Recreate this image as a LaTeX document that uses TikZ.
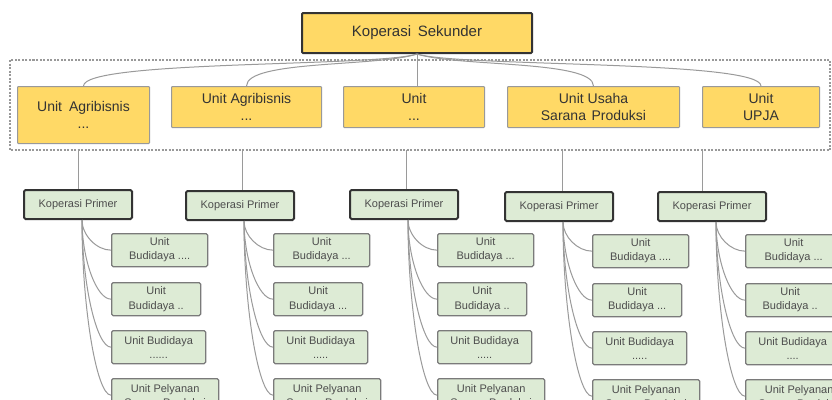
\documentclass[tikz,border=0pt]{standalone}
\usepackage{fontspec}
\setmainfont{Liberation Sans}
\usetikzlibrary{calc}
\definecolor{yel}{HTML}{FFD966}
\definecolor{lgreen}{HTML}{DDEBD5}
\definecolor{darkb}{HTML}{333333}
\definecolor{unitb}{HTML}{999999}
\definecolor{leafb}{HTML}{7A7A7A}
\definecolor{lineg}{HTML}{9A9A9A}
\definecolor{txt}{HTML}{333333}
\definecolor{txtl}{HTML}{4D4D4D}
\newcommand\dotsn[1]{\ifcase#1\or.\or..\or...\or....\or.....\or......\fi}
\tikzset{
  sek/.style={draw=darkb, line width=2pt, fill=yel, text=txt, font=\fontsize{15}{18}\selectfont,
    minimum width=230pt, minimum height=40pt, inner sep=0pt, rounded corners=1pt},
  unitbox/.style={draw=unitb, line width=1pt, fill=yel, text=txt, font=\fontsize{14}{17}\selectfont,
    align=center, inner sep=0pt, anchor=north west, rounded corners=0.8pt},
  kp/.style={draw=darkb, line width=2pt, fill=lgreen, text=txtl, font=\fontsize{11}{13}\selectfont,
    minimum width=108pt, minimum height=29pt, inner sep=0pt, anchor=north west, rounded corners=1.5pt},
  leaf/.style={draw=leafb, line width=1.3pt, fill=lgreen, text=txtl, font=\fontsize{11}{14}\selectfont,
    align=center, minimum height=33pt, inner sep=0pt, anchor=north west, rounded corners=1.5pt},
  conn/.style={draw=lineg, line width=1pt},
  dotrect/.style={draw=unitb, line width=1.2pt, dash pattern=on 2pt off 1.5pt}
}
\begin{document}
\begin{tikzpicture}[x=1pt,y=-1pt]
\useasboundingbox (0,0) rectangle (832,399);
\clip (0,0) rectangle (832,399);
\fill[white] (0,0) rectangle (832,399);
% top
\node[sek] (sek) at (417,33) {Koperasi\hspace{0.45em}Sekunder};
\draw[dotrect] (10,60) rectangle (830,150);
% units
\node[unitbox, minimum width=132pt, minimum height=57pt] (u1) at (17,86) {Unit\hspace{0.5em}Agribisnis\\...};
\node[unitbox, minimum width=150pt, minimum height=41pt] (u2) at (171,86) {Unit Agribisnis\\...};
\node[unitbox, minimum width=141pt, minimum height=41pt] (u3) at (343,86) {Unit\\...};
\node[unitbox, minimum width=172pt, minimum height=41pt] (u4) at (507,86) {Unit Usaha\\Sarana\hspace{0.4em}Produksi};
\node[unitbox, minimum width=117pt, minimum height=41pt] (u5) at (702,86) {Unit\\UPJA};
\draw[conn] (sek.south) .. controls +(-40,13) and +(0,-26) .. (u1.north);
\draw[conn] (sek.south) .. controls +(-40,13) and +(0,-26) .. (u2.north);
\draw[conn] (sek.south) -- (sek.south |- u3.north);
\draw[conn] (sek.south) .. controls +(40,13) and +(0,-26) .. (u4.north);
\draw[conn] (sek.south) .. controls +(40,13) and +(0,-26) .. (u5.north);
% columns
\foreach \c/\kx/\ky/\cx/\lx/\lt/\da/\db/\dc in {
  1/23/189/78/111/233/4/2/6,
  2/185/190/242/273/233/3/3/5,
  3/349/189/406/437/233/3/2/5,
  4/504/191/562/592/234/4/3/5,
  5/657/191/702/745/234/3/2/4}{
  \node[kp] (k\c) at (\kx,\ky) {Koperasi Primer};
  \coordinate (t\c) at (\cx,150);
  \draw[conn] (t\c) -- (t\c |- k\c.north);
  \coordinate (s\c) at ([xshift=4pt]k\c.south);
  \node[leaf, minimum width=96pt] (l\c a) at (\lx,\lt) {Unit\\Budidaya \dotsn{\da}};
  \node[leaf, minimum width=89pt] (l\c b) at (\lx,\lt+49) {Unit\\Budidaya \dotsn{\db}};
  \node[leaf, minimum width=94pt] (l\c c) at (\lx,\lt+97) {Unit Budidaya\\\dotsn{\dc}};
  \node[leaf, minimum width=107pt] (l\c d) at (\lx,\lt+145) {Unit Pelyanan\\Sarana Produksi};
  \foreach \j in {a,b,c,d}{
    \draw[conn] (s\c) .. controls ($(s\c)!0.5!(s\c |- l\c\j.west)$) and ($(l\c\j.west)!0.5!(s\c |- l\c\j.west)$) .. (l\c\j.west);
  }
}
\end{tikzpicture}
\end{document}
